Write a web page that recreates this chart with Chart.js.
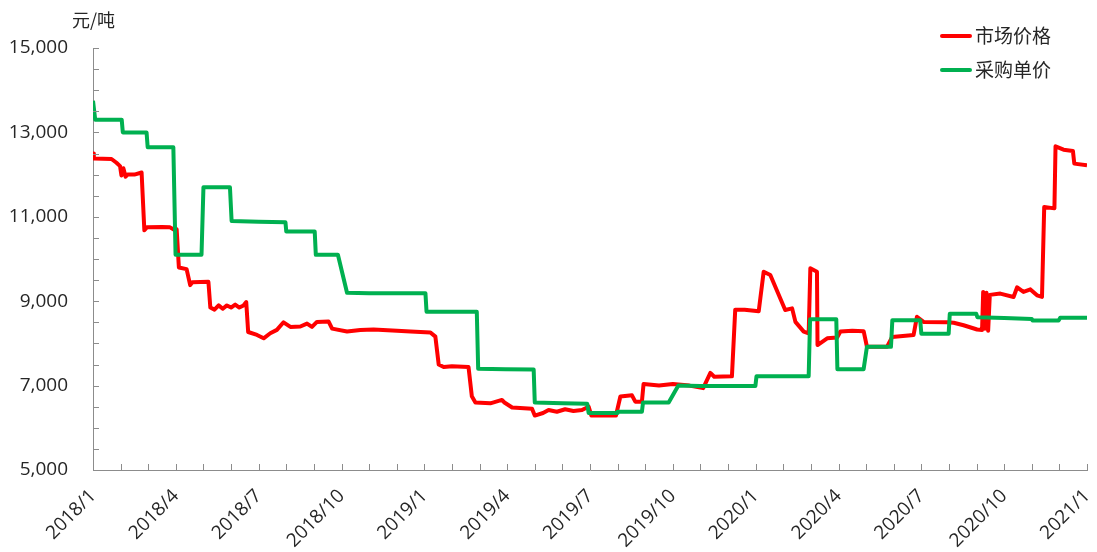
<!DOCTYPE html>
<html>
<head>
<meta charset="utf-8">
<script src="https://cdn.jsdelivr.net/npm/chart.js@4.4.0/dist/chart.umd.min.js"></script>
<style>
html,body{margin:0;padding:0;background:#fff;}
#wrap{width:1097px;height:552px;position:relative;}
</style>
</head>
<body>
<div id="wrap"><canvas id="c"></canvas></div>
<script>
// x = months since 2018/1
const redX = [0, 0.03, 0.67, 0.85, 0.98, 1.03, 1.1, 1.18, 1.25, 1.5, 1.76, 1.86, 1.95, 2.5, 2.79, 2.97, 3.03, 3.11, 3.39, 3.52, 3.6, 4.18, 4.25, 4.4, 4.55, 4.7, 4.85, 5.0, 5.15, 5.3, 5.45, 5.55, 5.62, 5.94, 6.18, 6.42, 6.66, 6.9, 7.15, 7.51, 7.75, 7.93, 8.11, 8.53, 8.66, 9.2, 9.68, 10.16, 11.01, 11.5, 12.22, 12.4, 12.52, 12.7, 13.0, 13.6, 13.72, 13.85, 14.39, 14.6, 14.81, 14.9, 15.18, 15.9, 16.0, 16.3, 16.5, 16.8, 17.1, 17.4, 17.71, 17.95, 18.05, 18.94, 19.1, 19.52, 19.64, 19.88, 19.94, 20.5, 21.0, 21.6, 22.1, 22.36, 22.5, 23.14, 23.26, 23.6, 24.11, 24.29, 24.53, 25.07, 25.32, 25.44, 25.74, 25.92, 25.98, 26.22, 26.24, 26.59, 26.95, 27.07, 27.5, 27.91, 28.03, 28.76, 28.94, 29.72, 29.84, 30.08, 30.93, 31.17, 31.53, 32.02, 32.2, 32.24, 32.3, 32.36, 32.42, 32.48, 32.86, 33.34, 33.47, 33.7, 33.95, 34.19, 34.37, 34.45, 34.82, 34.86, 35.15, 35.49, 35.54, 36];
const redY = [12500, 12380, 12370, 12280, 12200, 11980, 12150, 11950, 12000, 12000, 12050, 10680, 10750, 10760, 10750, 10680, 10700, 9800, 9760, 9380, 9450, 9460, 8850, 8800, 8900, 8820, 8900, 8850, 8920, 8850, 8900, 8980, 8270, 8200, 8120, 8240, 8320, 8500, 8390, 8400, 8470, 8390, 8510, 8520, 8350, 8280, 8320, 8330, 8300, 8280, 8260, 8160, 7500, 7440, 7460, 7440, 6750, 6600, 6580, 6620, 6660, 6600, 6480, 6450, 6290, 6350, 6420, 6380, 6440, 6400, 6420, 6500, 6290, 6290, 6740, 6770, 6620, 6620, 7040, 7000, 7040, 7000, 6940, 7300, 7210, 7220, 8800, 8800, 8760, 9700, 9620, 8790, 8830, 8510, 8280, 8240, 9780, 9700, 7960, 8120, 8140, 8280, 8300, 8290, 7920, 7920, 8150, 8200, 8630, 8510, 8500, 8490, 8430, 8330, 8320, 9220, 8350, 9200, 8300, 9150, 9180, 9100, 9330, 9220, 9280, 9140, 9100, 11230, 11200, 12670, 12590, 12560, 12260, 12220];
const greenX = [0, 0.08, 1.04, 1.08, 1.94, 1.98, 2.91, 2.99, 3.93, 4.0, 4.96, 5.02, 6.0, 6.97, 7.0, 8.03, 8.07, 8.87, 9.2, 10.0, 12.04, 12.08, 13.9, 13.95, 14.94, 15.96, 16.0, 17.0, 17.9, 17.95, 18.98, 19.0, 19.88, 19.92, 20.85, 21.2, 22.0, 23.99, 24.03, 25.92, 25.97, 26.92, 26.96, 27.91, 28.03, 28.9, 28.95, 29.96, 30.0, 30.99, 31.03, 31.99, 32.03, 33.0, 34.0, 34.03, 34.97, 35.03, 36];
const greenY = [13750, 13300, 13300, 13000, 13000, 12650, 12650, 10100, 10100, 11700, 11700, 10900, 10880, 10870, 10650, 10650, 10100, 10100, 9200, 9190, 9190, 8750, 8750, 7400, 7390, 7380, 6600, 6580, 6570, 6350, 6350, 6380, 6380, 6600, 6600, 7000, 6990, 6990, 7220, 7220, 8570, 8570, 7390, 7390, 7920, 7920, 8550, 8550, 8230, 8230, 8700, 8700, 8620, 8600, 8580, 8540, 8540, 8610, 8610];
const seriesNames = ['市场价格', '采购单价'];
const seriesColors = ['#ff0000', '#00b050'];
const unitLabel = '元/吨';
const startYear = 2018;

const axisColor = '#8c8c8c';
const textColor = '#262626';
const numFont = '"Open Sans", "Noto Sans CJK SC", sans-serif';
const cjkFont = '"Noto Sans CJK SC", sans-serif';

function pts(xs, ys){ return xs.map((x, i) => ({x: x, y: ys[i]})); }

// legend + unit label + inner tick marks
const decor = {
    id: 'decor',
    afterDraw(chart){
        const ctx = chart.ctx, a = chart.chartArea;
        const xs = chart.scales.x, ys = chart.scales.y;
        ctx.save();
        ctx.strokeStyle = axisColor;
        ctx.lineWidth = 1;
        ctx.beginPath();
        xs.ticks.forEach(t => {
            const px = Math.round(xs.getPixelForValue(t.value)) + 0.5;
            ctx.moveTo(px, a.bottom); ctx.lineTo(px, a.bottom - 6);
        });
        ys.ticks.forEach(t => {
            const py = Math.round(ys.getPixelForValue(t.value)) + 0.5;
            ctx.moveTo(a.left, py); ctx.lineTo(a.left + 6, py);
        });
        ctx.stroke();

        ctx.fillStyle = textColor;
        ctx.font = '18px ' + cjkFont;
        ctx.textBaseline = 'middle';
        ctx.textAlign = 'left';
        ctx.fillText(unitLabel, 72, 20);

        // legend
        ctx.font = '19px ' + cjkFont;
        chart.data.datasets.forEach((ds, i) => {
            const y = 36 + i * 34;
            ctx.strokeStyle = ds.borderColor;
            ctx.lineWidth = 4;
            ctx.lineCap = 'round';
            ctx.beginPath();
            ctx.moveTo(942, y); ctx.lineTo(970, y);
            ctx.stroke();
            ctx.fillStyle = textColor;
            ctx.fillText(ds.label, 975, y);
        });
        ctx.restore();
    }
};

new Chart(document.getElementById('c'), {
    type: 'line',
    data: {
        datasets: [
            { label: seriesNames[0], data: pts(redX, redY), borderColor: seriesColors[0], backgroundColor: seriesColors[0], borderWidth: 4, pointRadius: 0, tension: 0, borderJoinStyle: 'round', order: 1 },
            { label: seriesNames[1], data: pts(greenX, greenY), borderColor: seriesColors[1], backgroundColor: seriesColors[1], borderWidth: 4, pointRadius: 0, tension: 0, borderJoinStyle: 'round', order: 0 }
        ]
    },
    options: {
        responsive: true,
        maintainAspectRatio: false,
        animation: false,
        devicePixelRatio: 1,
        layout: { padding: { top: 48, right: 10, left: 0, bottom: 0 } },
        plugins: { legend: { display: false }, tooltip: { enabled: false } },
        scales: {
            x: {
                type: 'linear', min: 0, max: 36,
                grid: { drawOnChartArea: false, drawTicks: false, tickLength: 0 },
                border: { display: true, color: axisColor, width: 1 },
                ticks: {
                    stepSize: 1, autoSkip: false, minRotation: 45, maxRotation: 45, padding: 15,
                    color: textColor, font: { family: numFont, size: 19 },
                    callback: v => (v % 3 === 0) ? (startYear + Math.floor(v / 12)) + '/' + (v % 12 + 1) : ''
                },
                afterFit: s => { s.height = 82; s.paddingLeft = 0; s.paddingRight = 0; }
            },
            y: {
                min: 5000, max: 15000,
                grid: { drawOnChartArea: false, drawTicks: false, tickLength: 0 },
                border: { display: true, color: axisColor, width: 1 },
                ticks: {
                    stepSize: 500, autoSkip: false, padding: 25,
                    color: textColor, font: { family: numFont, size: 19 },
                    callback: v => ((v - 5000) % 2000 === 0) ? v.toLocaleString('en-US') : ''
                },
                afterFit: s => { s.width = 93; }
            }
        }
    },
    plugins: [decor]
});
</script>
</body>
</html>
